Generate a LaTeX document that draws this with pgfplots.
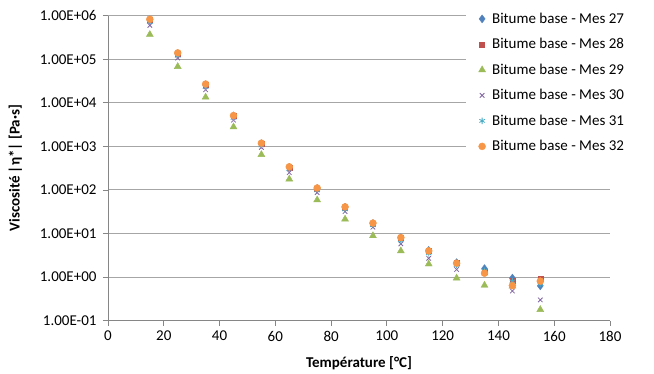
\documentclass[border=0pt]{standalone}
\usepackage{fontspec}
\setmainfont{Carlito}
\usepackage{pgfplots}
\pgfplotsset{compat=1.18}
\definecolor{cA}{HTML}{4F81BD}
\definecolor{cB}{HTML}{C0504D}
\definecolor{cC}{HTML}{9BBB59}
\definecolor{cD}{HTML}{8064A2}
\definecolor{cE}{HTML}{4BACC6}
\definecolor{cF}{HTML}{F79646}
\definecolor{gridc}{HTML}{A6A6A6}
\definecolor{axc}{HTML}{868686}
\begin{document}
\begin{tikzpicture}
\path[use as bounding box] (-108bp,-53.3bp) rectangle (546bp,320.7bp);
\begin{axis}[
  scale only axis, width=502bp, height=305bp,
  ymode=log, xmin=0, xmax=180, ymin=1e-1, ymax=1e6,
  xtick={0,20,...,180},
  ytick={1e-1,1e0,1e1,1e2,1e3,1e4,1e5,1e6},
  yticklabels={1.00E-01,1.00E+00,1.00E+01,1.00E+02,1.00E+03,1.00E+04,1.00E+05,1.00E+06},
  /pgf/number format/assume math mode=true,
  minor ytick={}, yminorticks=false,
  axis x line*=bottom, axis y line*=left,
  axis line style={draw=axc, line width=0.9bp, -},
  tick style={draw=axc, line width=0.9bp},
  tick align=outside, major tick length=5bp,
  ymajorgrids, major grid style={draw=gridc, line width=1bp},
  ticklabel style={font=\fontsize{15bp}{18bp}\selectfont, text=black},
  yticklabel style={xshift=-3bp},
  xticklabel style={yshift=-2bp},
  label style={font=\fontsize{15bp}{18bp}\selectfont\bfseries},
  xlabel={Température [°C]},
  xlabel style={yshift=-8bp},
  ylabel={Viscosité |η*| [Pa·s]},
  ylabel style={yshift=11bp},
  legend cell align=left,
  legend image code/.code={\path[draw=none,fill=none] (-16bp,-3bp) rectangle (10bp,3bp); \draw[#1] plot coordinates {(0bp,0bp)};},
  legend style={draw=none, fill=white, at={(0.713,1.032)}, anchor=north west,
    font=\fontsize{15bp}{18bp}\selectfont, inner sep=0pt, column sep=0pt,
    nodes={text height=17bp, text depth=8.5bp, inner sep=0bp}},
  clip=false,
]
\addplot[only marks, mark=diamond*, mark size=4bp, color=cA] coordinates {
(15,8.0e5) (25,1.35e5) (35,2.6e4) (45,5.0e3) (55,1.15e3) (65,330) (75,108) (85,40) (95,17) (105,8.0) (115,4.1) (125,2.15) (135,1.57) (145,0.95) (155,0.63)};
\addlegendentry{Bitume base - Mes 27}
\addplot[only marks, mark=square*, mark size=2.5bp, color=cB] coordinates {
(15,7.9e5) (25,1.33e5) (35,2.6e4) (45,5.0e3) (55,1.15e3) (65,330) (75,108) (85,40) (95,17) (105,7.9) (115,4.0) (125,2.1) (135,1.3) (145,0.85) (155,0.92)};
\addlegendentry{Bitume base - Mes 28}
\addplot[only marks, mark=triangle*, mark size=4bp, color=cC] coordinates {
(15,3.7e5) (25,6.8e4) (35,1.35e4) (45,2.8e3) (55,650) (65,178) (75,59) (85,21.4) (95,8.9) (105,4.0) (115,2.0) (125,0.95) (135,0.65) (145,0.62) (155,0.18)};
\addlegendentry{Bitume base - Mes 29}
\addplot[only marks, mark=x, mark size=3.2bp, color=cD, line width=0.8bp] coordinates {
(15,6.0e5) (25,1.07e5) (35,2.0e4) (45,4.0e3) (55,950) (65,250) (75,87) (85,32) (95,14) (105,5.8) (115,2.7) (125,1.5) (135,1.25) (145,0.48) (155,0.30)};
\addlegendentry{Bitume base - Mes 30}
\addplot[only marks, mark=asterisk, mark size=3.2bp, color=cE, line width=0.8bp] coordinates {
(15,7.2e5) (25,1.2e5) (35,2.3e4) (45,4.5e3) (55,1.05e3) (65,300) (75,98) (85,36) (95,15.5) (105,7.0) (115,3.5) (125,1.9) (135,1.4) (145,0.8) (155,0.7)};
\addlegendentry{Bitume base - Mes 31}
\addplot[only marks, mark=*, mark size=3.5bp, color=cF] coordinates {
(15,8.3e5) (25,1.4e5) (35,2.7e4) (45,5.1e3) (55,1.19e3) (65,340) (75,111) (85,41) (95,17.4) (105,8.1) (115,4.0) (125,2.08) (135,1.23) (145,0.64) (155,0.81)};
\addlegendentry{Bitume base - Mes 32}
\end{axis}
\end{tikzpicture}
\end{document}
